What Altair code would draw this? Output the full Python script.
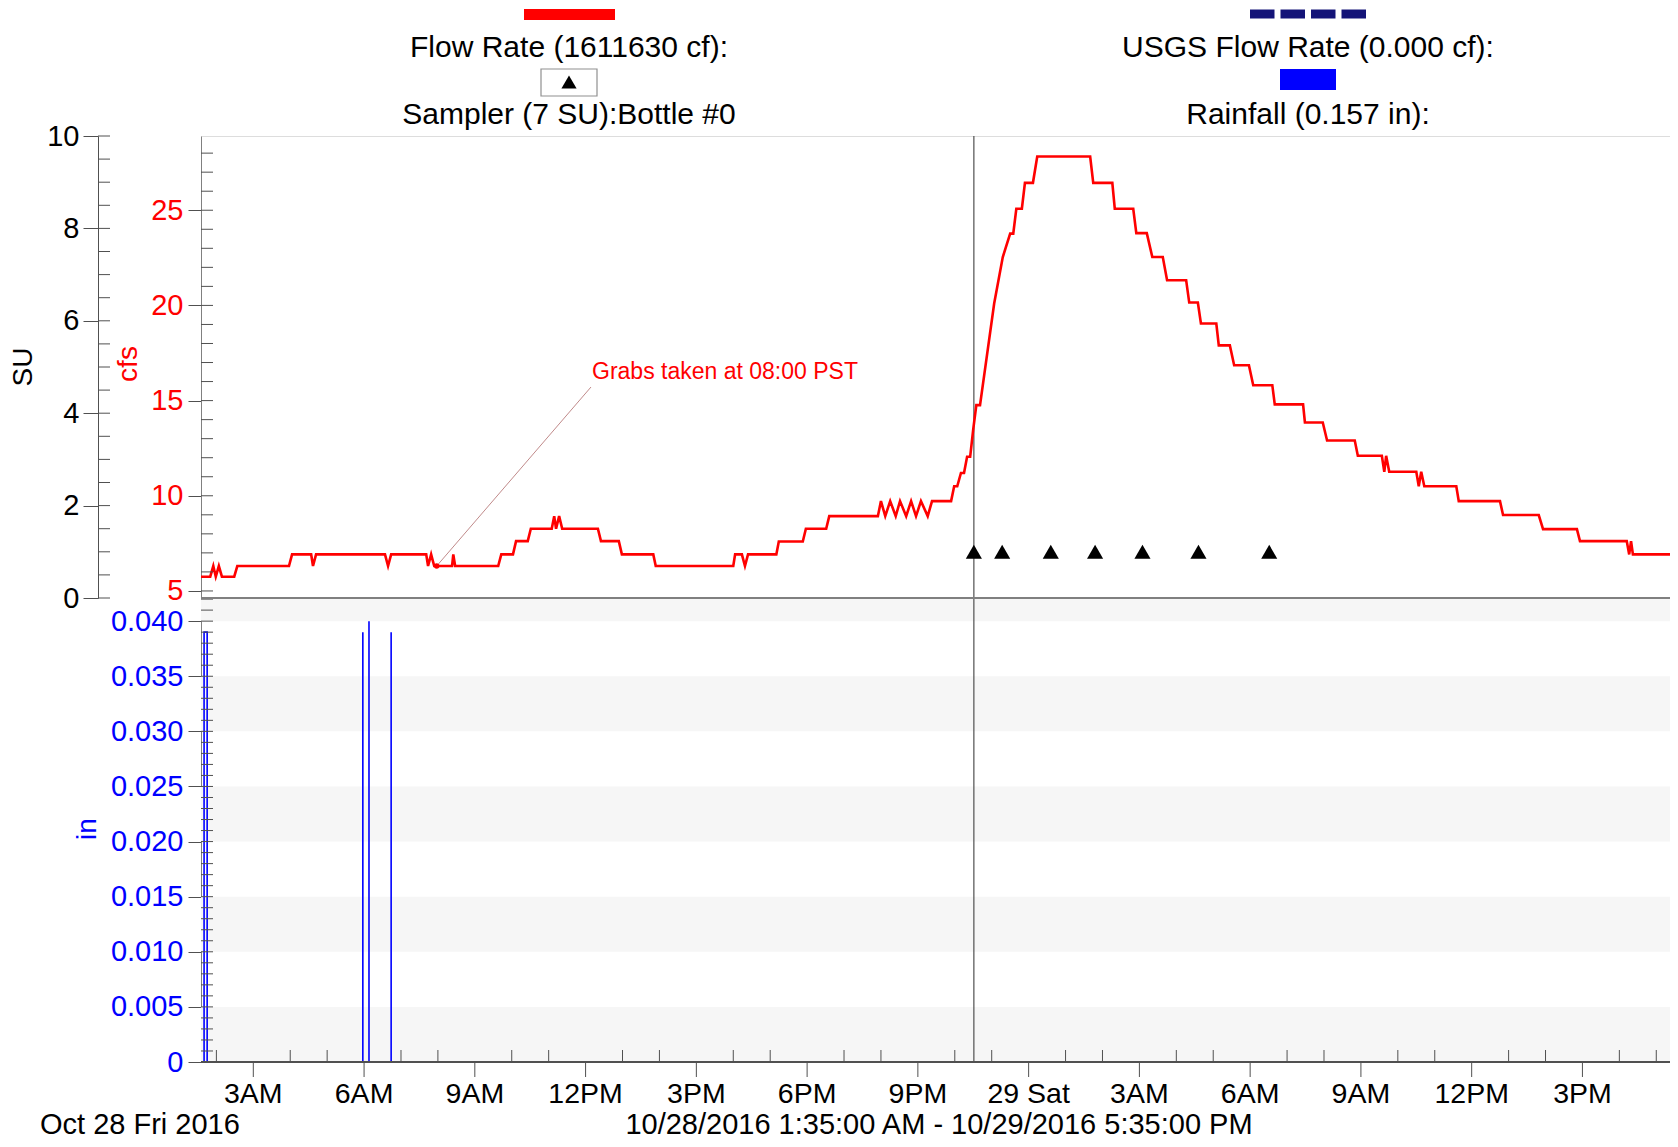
import altair as alt
import pandas as pd

START = pd.Timestamp("2016-10-28 01:35:00")
FONT = "Liberation Sans"

# ---- data (minutes after 10/28/2016 01:35) ----
flow_minutes = [0, 15, 20, 24, 29, 34, 54, 59, 143, 148, 179, 182, 187, 299, 304, 309,
                366, 369, 374, 379, 408, 410, 413, 483, 488, 507, 512, 531, 536, 570,
                574, 577, 582, 587, 645, 650, 679, 684, 735, 739, 865, 868, 879, 884,
                889, 935, 939, 978, 983, 1016, 1021, 1100, 1105, 1112, 1120, 1129, 1136,
                1146, 1154, 1162, 1170, 1181, 1188, 1219, 1224, 1229, 1235, 1240, 1245,
                1250, 1255, 1260, 1266, 1289, 1303, 1315, 1320, 1325, 1334, 1339, 1352,
                1359, 1445, 1450, 1481, 1485, 1515, 1520, 1537, 1546, 1563, 1570, 1601,
                1606, 1620, 1625, 1650, 1654, 1672, 1679, 1703, 1710, 1741, 1745, 1791,
                1794, 1823, 1830, 1875, 1880, 1919, 1923, 1926, 1931, 1975, 1979, 1983,
                1988, 2040, 2044, 2111, 2116, 2174, 2181, 2236, 2241, 2317, 2321, 2324,
                2327, 2400]
flow_cfs = [5.75, 5.75, 6.31, 5.75, 6.31, 5.75, 5.75, 6.31, 6.31, 6.92, 6.92, 6.31, 6.92,
            6.92, 6.31, 6.92, 6.92, 6.31, 6.92, 6.31, 6.31, 6.92, 6.31, 6.31, 6.92, 6.92,
            7.62, 7.62, 8.27, 8.27, 8.93, 8.27, 8.93, 8.27, 8.27, 7.62, 7.62, 6.92, 6.92,
            6.31, 6.31, 6.92, 6.92, 6.31, 6.92, 6.92, 7.6, 7.6, 8.27, 8.27, 8.93, 8.93,
            9.72, 8.93, 9.72, 8.93, 9.72, 8.93, 9.72, 8.93, 9.72, 8.93, 9.72, 9.72, 10.5,
            10.5, 11.2, 11.2, 12.05, 12.05, 13.5, 14.76, 14.76, 20.1, 22.54, 23.77, 23.77,
            25.08, 25.08, 26.44, 26.44, 27.82, 27.82, 26.44, 26.44, 25.08, 25.08, 23.8,
            23.8, 22.54, 22.54, 21.32, 21.32, 20.15, 20.15, 19.05, 19.05, 17.9, 17.9,
            16.86, 16.86, 15.81, 15.81, 14.8, 14.8, 13.85, 13.85, 12.9, 12.9, 12.1, 12.1,
            11.26, 12.1, 11.26, 11.26, 10.5, 11.26, 10.5, 10.5, 9.72, 9.72, 8.99, 8.99,
            8.25, 8.25, 7.62, 7.62, 6.92, 7.62, 6.92, 6.92]

sampler_minutes = [1256, 1302, 1381, 1453, 1530, 1621, 1736]
sampler_su = [1.0, 1.0, 1.0, 1.0, 1.0, 1.0, 1.0]

rain_start_minutes = [5, 263, 273, 309]
rain_end_minutes = [10, 263, 273, 309]
rain_in = [0.039, 0.039, 0.040, 0.039]

grab_minutes = [383]
grab_cfs = [6.31]

band_lo = [0.0, 0.010, 0.020, 0.030, 0.040]
band_hi = [0.005, 0.015, 0.025, 0.035, 0.0421]

su_ticks = [0, 2, 4, 6, 8, 10]
cfs_ticks = [5, 10, 15, 20, 25]
rain_ticks = [0, 0.005, 0.010, 0.015, 0.020, 0.025, 0.030, 0.035, 0.040]

# x-axis: major ticks every 3 h (minutes after 01:35) and their labels
x_major_minutes = [85, 265, 445, 625, 805, 985, 1165, 1345, 1525, 1705, 1885, 2065, 2245]
x_major_labels = ["3AM", "6AM", "9AM", "12PM", "3PM", "6PM", "9PM", "29 Sat",
                  "3AM", "6AM", "9AM", "12PM", "3PM"]


def ts(mins):
    return [(START + pd.Timedelta(minutes=m)).strftime("%Y-%m-%dT%H:%M:%S") for m in mins]


W, H, TOP_H = 1469, 926, 462

x_scale = alt.Scale(domain=[alt.DateTime(year=2016, month=10, date=28, hours=1, minutes=35),
                            alt.DateTime(year=2016, month=10, date=29, hours=17, minutes=22, seconds=18)])
cfs_scale = alt.Scale(domain=[4.63, 28.9], range=[TOP_H, 0], nice=False, zero=False)
su_scale = alt.Scale(domain=[0, 10], range=[TOP_H, 0], nice=False, zero=False)
rain_scale = alt.Scale(domain=[0, 0.0421], range=[H, TOP_H], nice=False, zero=False)

minor_hour_times = ts([(h * 60 - 95) for h in range(2, 42) if h % 3 != 0])

flow_df = pd.DataFrame({"time": ts(flow_minutes), "cfs": flow_cfs})
samp_df = pd.DataFrame({"time": ts(sampler_minutes), "su": sampler_su})
rain_df = pd.DataFrame({"start": ts(rain_start_minutes), "end": ts(rain_end_minutes), "rain": rain_in})
grab_df = pd.DataFrame({"time": ts(grab_minutes), "cfs": grab_cfs})
band_df = pd.DataFrame({"lo": band_lo, "hi": band_hi})
vline_df = pd.DataFrame({"time": ts(sampler_minutes[:1])})
xminor_df = pd.DataFrame({"time": minor_hour_times})
xmajor_df = pd.DataFrame({"time": ts(x_major_minutes), "label": x_major_labels})
su_minor_df = pd.DataFrame({"v": [i * 0.5 for i in range(21)]})
cfs_minor_df = pd.DataFrame({"v": list(range(5, 29))})
rain_minor_df = pd.DataFrame({"v": [i / 1000 for i in range(43)]})

TICK = "#505050"
XT = alt.X("time:T", scale=x_scale, axis=None)

bands = alt.Chart(band_df).mark_rect(color="#f6f6f6").encode(
    x=alt.value(0), x2=alt.value(W),
    y=alt.Y("lo:Q", scale=rain_scale, axis=None), y2="hi:Q")

rain = alt.Chart(rain_df).mark_rect(fillOpacity=0, stroke="#0000ff", strokeWidth=1.6).encode(
    x=alt.X("start:T", scale=x_scale, axis=None), x2="end:T",
    y=alt.Y("rain:Q", scale=rain_scale,
            axis=alt.Axis(orient="left", values=rain_ticks, tickSize=13, tickColor=TICK,
                          domainColor="#808080", labelFont=FONT, labelFontSize=29,
                          labelColor="#0000ff", labelPadding=5, labelFlush=False,
                          labelOverlap=False, grid=False, title=None,
                          labelExpr="datum.value == 0 ? '0' : format(datum.value, '.3f')")),
    y2=alt.datum(0))

rain_minor = alt.Chart(rain_minor_df).mark_rule(color=TICK, strokeWidth=1).encode(
    x=alt.value(0), x2=alt.value(12), y=alt.Y("v:Q", scale=rain_scale, axis=None))

vline = alt.Chart(vline_df).mark_rule(color="#505050", strokeWidth=1.2).encode(
    x=XT, y=alt.value(0), y2=alt.value(H))

flow = alt.Chart(flow_df).mark_line(color="#ff0000", strokeWidth=2.6, clip=True).encode(
    x=XT,
    y=alt.Y("cfs:Q", scale=cfs_scale,
            axis=alt.Axis(orient="left", values=cfs_ticks, tickSize=13, tickColor=TICK,
                          domainColor="#808080", labelFont=FONT, labelFontSize=29,
                          labelColor="#ff0000", labelPadding=5, labelFlush=False,
                          labelOverlap=False, grid=False, title=None)))

cfs_minor = alt.Chart(cfs_minor_df).mark_rule(color=TICK, strokeWidth=1).encode(
    x=alt.value(0), x2=alt.value(12), y=alt.Y("v:Q", scale=cfs_scale, axis=None))

samplers = alt.Chart(samp_df).mark_point(shape="triangle-up", filled=True, color="black",
                                         size=260, opacity=1).encode(
    x=XT,
    y=alt.Y("su:Q", scale=su_scale,
            axis=alt.Axis(orient="left", values=su_ticks, offset=103, tickSize=15, tickColor=TICK,
                          domainColor="#505050", labelFont=FONT, labelFontSize=29,
                          labelColor="black", labelPadding=4, labelFlush=False,
                          labelOverlap=False, grid=False, title=None)))

su_minor = alt.Chart(su_minor_df).mark_rule(color=TICK, strokeWidth=1).encode(
    x=alt.value(-103), x2=alt.value(-91), y=alt.Y("v:Q", scale=su_scale, axis=None))

xminor = alt.Chart(xminor_df).mark_rule(color=TICK, strokeWidth=1).encode(
    x=XT, y=alt.value(H - 12), y2=alt.value(H))

xmajor = alt.Chart(xmajor_df).mark_rule(color=TICK, strokeWidth=1).encode(
    x=XT, y=alt.value(H), y2=alt.value(H + 15))

xlabels = alt.Chart(xmajor_df).mark_text(font=FONT, fontSize=28.5, color="black",
                                         align="center", baseline="middle").encode(
    x=XT, y=alt.value(H + 32), text="label:N")

xdomain = alt.Chart(pd.DataFrame({"a": [0]})).mark_rule(color="#505050", strokeWidth=2).encode(
    x=alt.value(0), x2=alt.value(W), y=alt.value(H))

separator = alt.Chart(pd.DataFrame({"a": [0]})).mark_rule(color="#808080", strokeWidth=2).encode(
    x=alt.value(0), x2=alt.value(W), y=alt.value(TOP_H))

grab_leader = alt.Chart(grab_df).mark_rule(color="#c08a8a", strokeWidth=1).encode(
    x=XT, y=alt.Y("cfs:Q", scale=cfs_scale, axis=None),
    x2=alt.value(390), y2=alt.value(251))
grab_dot = alt.Chart(grab_df).mark_circle(color="#ff0000", size=30, opacity=1).encode(
    x=XT, y=alt.Y("cfs:Q", scale=cfs_scale, axis=None))


def label(text, x, y, size=30, color="black", align="center", angle=0):
    return alt.Chart(pd.DataFrame({"t": [text]})).mark_text(
        align=align, baseline="middle", fontSize=size, color=color, angle=angle, font=FONT
    ).encode(text="t:N", x=alt.value(x), y=alt.value(y))


def box(x, x2, y, y2, fill, stroke=None):
    kw = {"color": fill}
    if stroke:
        kw = {"fill": fill, "stroke": stroke, "strokeWidth": 1.2}
    return alt.Chart(pd.DataFrame({"a": [0]})).mark_rect(**kw).encode(
        x=alt.value(x), x2=alt.value(x2), y=alt.value(y), y2=alt.value(y2))


legend_layers = [
    box(323, 414, -127, -116, "#ff0000"),
    label("Flow Rate (1611630 cf):", 368, -88),
    box(340, 396, -67, -40, "white", "#909090"),
    alt.Chart(pd.DataFrame({"a": [0]})).mark_point(shape="triangle-up", filled=True,
                                                   color="black", size=230, opacity=1).encode(
        x=alt.value(368), y=alt.value(-54)),
    label("Sampler (7 SU):Bottle #0", 368, -21),
    alt.Chart(pd.DataFrame({"a": [0]})).mark_rule(color="#141478", strokeWidth=9,
                                                  strokeDash=[24.5, 6]).encode(
        x=alt.value(1049), x2=alt.value(1165), y=alt.value(-122)),
    label("USGS Flow Rate (0.000 cf):", 1107, -88),
    box(1079, 1135, -67, -46, "#0000ff"),
    label("Rainfall (0.157 in):", 1107, -21),
    label("SU", -177, 231, size=28, angle=270),
    label("cfs", -72, 228, size=28, color="#ff0000", angle=270),
    label("in", -113, 693, size=28, color="#0000ff", angle=270),
    label("Grabs taken at 08:00 PST", 391, 236, size=23, color="#ff0000", align="left"),
    label("Oct 28 Fri 2016", -161, 989, size=29, align="left"),
    label("10/28/2016 1:35:00 AM - 10/29/2016 5:35:00 PM", 738, 989, size=29),
]

chart = alt.layer(
    bands, vline, rain, rain_minor, separator, flow, cfs_minor, grab_leader, grab_dot,
    samplers, su_minor, xminor, xmajor, xdomain, xlabels, *legend_layers
).resolve_scale(y="independent").properties(
    width=W, height=H,
    padding={"left": 193, "top": 128, "right": 0, "bottom": 77},
    autosize=alt.AutoSizeParams(type="none"),
    background="white",
).configure_view(stroke="#909090", strokeWidth=1.5).configure(font=FONT)

chart.save("out.html", embed_options={"renderer": "svg", "actions": False})
